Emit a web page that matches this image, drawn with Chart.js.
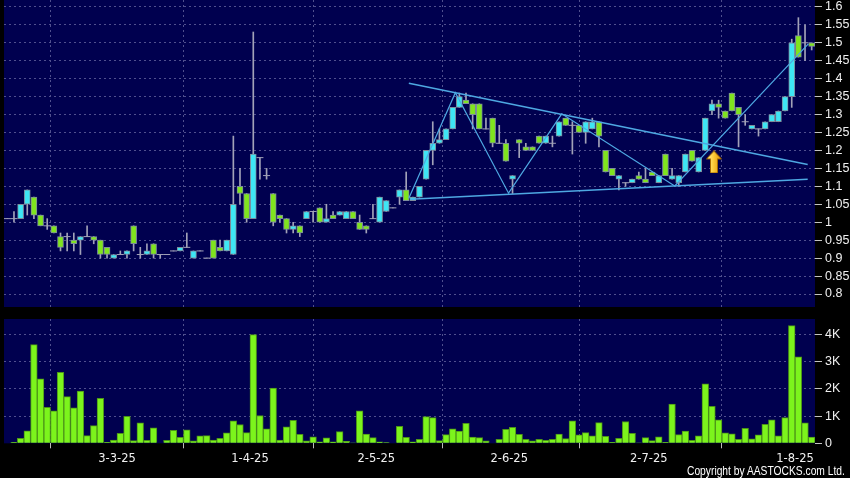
<!DOCTYPE html>
<html lang="en">
<head>
<meta charset="UTF-8">
<title>Daily candles and volume</title>
<script src="https://cdn.jsdelivr.net/npm/chart.js@4"></script>
<style>
  body { margin: 0; background: #000; width: 850px; height: 478px; overflow: hidden; position: relative; }
  #priceChart { position: absolute; left: 0; top: 0; }
  #volChart { position: absolute; left: 0; top: 310px; }
  .copyright {
    position: absolute; right: 5px; top: 463px; color: #fff;
    font: 13px 'Liberation Sans', sans-serif; white-space: nowrap;
    transform: scaleX(0.79); transform-origin: right center;
  }
</style>
</head>
<body>
<canvas id="priceChart" width="850" height="310"></canvas>
<canvas id="volChart" width="850" height="168"></canvas>
<div class="copyright">Copyright by AASTOCKS.com Ltd.</div>

<script>
// ---- data (one entry per trading day) ----
const opens = [
  1.01,1.01,1.01,1.05,1.07,1.02,0.99,0.99,0.96,0.96,
  0.95,0.95,0.96,0.96,0.95,0.93,0.90,0.91,0.91,0.99,
  0.91,0.91,0.94,0.91,0.91,0.92,0.92,0.93,0.90,0.92,
  0.90,0.95,0.93,0.92,0.91,1.10,1.08,1.01,1.18,1.13,
  1.08,1.02,1.01,0.98,0.99,1.01,1.03,1.04,1.00,1.02,
  1.02,1.01,1.03,1.00,0.99,1.01,1.00,1.03,1.04,1.07,
  1.09,1.06,1.07,1.12,1.20,1.22,1.23,1.26,1.32,1.34,
  1.33,1.33,1.26,1.29,1.22,1.22,1.12,1.23,1.21,1.21,
  1.24,1.22,1.22,1.24,1.29,1.27,1.27,1.25,1.26,1.28,
  1.20,1.15,1.12,1.11,1.11,1.13,1.12,1.14,1.11,1.19,
  1.12,1.11,1.14,1.20,1.14,1.20,1.31,1.33,1.31,1.36,
  1.32,1.28,1.26,1.26,1.26,1.28,1.28,1.31,1.35,1.52,
  1.50,1.50
];
const highs = [
  1.01,1.03,1.05,1.09,1.07,1.02,1.01,0.99,0.97,0.97,
  0.97,0.96,0.99,0.96,0.95,0.93,0.91,0.92,0.92,0.99,
  0.93,0.94,0.94,0.91,0.91,0.92,0.93,0.97,0.92,0.92,
  0.90,0.95,0.95,0.95,1.24,1.15,1.08,1.53,1.18,1.15,
  1.08,1.02,1.01,1.00,0.99,1.03,1.03,1.04,1.05,1.03,
  1.03,1.03,1.03,1.02,0.99,1.05,1.07,1.06,1.04,1.09,
  1.14,1.07,1.10,1.20,1.28,1.26,1.26,1.32,1.36,1.36,
  1.33,1.33,1.29,1.29,1.27,1.23,1.13,1.23,1.22,1.21,
  1.24,1.24,1.24,1.28,1.29,1.28,1.27,1.28,1.29,1.28,
  1.20,1.15,1.13,1.11,1.12,1.14,1.15,1.14,1.13,1.19,
  1.15,1.13,1.19,1.20,1.18,1.29,1.34,1.34,1.31,1.36,
  1.32,1.30,1.27,1.26,1.28,1.30,1.31,1.35,1.51,1.57,
  1.55,1.50
];
const lows = [
  1.01,1.00,1.01,1.02,1.01,0.99,0.98,0.97,0.92,0.92,
  0.92,0.91,0.96,0.94,0.90,0.90,0.90,0.91,0.90,0.92,
  0.90,0.91,0.90,0.90,0.91,0.92,0.92,0.93,0.90,0.92,
  0.90,0.90,0.92,0.92,0.91,1.05,1.00,1.01,1.12,1.12,
  0.99,1.00,0.97,0.97,0.96,1.01,1.00,1.00,1.00,1.01,
  1.02,1.01,1.01,0.98,0.97,1.01,1.00,1.03,1.04,1.05,
  1.06,1.06,1.07,1.12,1.16,1.22,1.23,1.26,1.32,1.33,
  1.26,1.26,1.26,1.21,1.22,1.17,1.08,1.18,1.20,1.20,
  1.22,1.22,1.21,1.24,1.27,1.19,1.25,1.22,1.26,1.21,
  1.14,1.13,1.09,1.10,1.11,1.12,1.11,1.13,1.11,1.13,
  1.12,1.10,1.14,1.17,1.14,1.20,1.30,1.29,1.29,1.31,
  1.21,1.27,1.26,1.24,1.26,1.28,1.28,1.31,1.32,1.46,
  1.45,1.48
];
const closes = [
  1.01,1.01,1.05,1.09,1.02,0.99,0.99,0.97,0.93,0.96,
  0.94,0.96,0.96,0.95,0.91,0.91,0.91,0.91,0.92,0.94,
  0.91,0.92,0.91,0.91,0.91,0.92,0.93,0.93,0.92,0.92,
  0.90,0.90,0.92,0.95,1.05,1.08,1.01,1.19,1.18,1.13,
  1.00,1.01,0.98,0.99,0.97,1.03,1.03,1.00,1.01,1.01,
  1.03,1.03,1.01,0.98,0.98,1.01,1.07,1.06,1.04,1.09,
  1.06,1.07,1.10,1.20,1.22,1.23,1.26,1.32,1.35,1.33,
  1.30,1.26,1.26,1.22,1.22,1.17,1.13,1.22,1.20,1.20,
  1.22,1.24,1.22,1.28,1.27,1.27,1.25,1.28,1.28,1.24,
  1.14,1.13,1.13,1.11,1.12,1.12,1.11,1.13,1.13,1.13,
  1.13,1.13,1.19,1.17,1.18,1.29,1.33,1.32,1.29,1.31,
  1.30,1.28,1.27,1.26,1.28,1.30,1.31,1.35,1.50,1.46,
  1.50,1.49
];
// volume in thousands of shares
const volumes = [
  0.00,0.04,0.18,0.46,3.62,2.37,1.32,1.19,2.60,1.71,
  1.30,1.92,0.28,0.65,1.65,0.04,0.12,0.37,0.99,0.10,
  0.75,0.11,0.57,0.00,0.11,0.48,0.22,0.49,0.09,0.27,
  0.28,0.12,0.18,0.38,0.82,0.69,0.39,3.99,1.02,0.53,
  2.03,0.12,0.60,0.84,0.33,0.09,0.24,0.05,0.20,0.05,
  0.43,0.07,0.02,1.19,0.34,0.21,0.05,0.03,0.00,0.62,
  0.22,0.05,0.15,0.98,0.94,0.10,0.32,0.53,0.45,0.73,
  0.23,0.21,0.09,0.00,0.15,0.51,0.59,0.33,0.15,0.09,
  0.15,0.11,0.15,0.34,0.17,0.82,0.31,0.39,0.27,0.76,
  0.26,0.04,0.18,0.80,0.37,0.02,0.21,0.10,0.24,0.04,
  1.44,0.32,0.45,0.11,0.27,2.18,1.36,0.86,0.38,0.35,
  0.15,0.55,0.16,0.31,0.70,0.86,0.27,0.94,4.32,3.17,
  0.75,0.23
];

const dateTicks = ['3-3-25', '1-4-25', '2-5-25', '2-6-25', '2-7-25', '1-8-25'];
const dateTickBars = [17, 37, 56, 76, 97, 119];   // bar that opens each labelled month
const priceTicks = [0.8, 0.85, 0.9, 0.95, 1, 1.05, 1.1, 1.15, 1.2, 1.25, 1.3, 1.35, 1.4, 1.45, 1.5, 1.55, 1.6];
const priceTickLabels = ['0.8','0.85','0.9','0.95','1','1.05','1.1','1.15','1.2','1.25','1.3','1.35','1.4','1.45','1.5','1.55','1.6'];
const volumeTicks = [0, 1, 2, 3, 4];
const volumeTickLabels = ['0', '1K', '2K', '3K', '4K'];

// drawn trend lines (x = bar number, y = price)
const upperTrend = [{ x: 60.4, y: 1.387 }, { x: 120.4, y: 1.161 }];
const lowerTrend = [{ x: 60.6, y: 1.064 }, { x: 120.4, y: 1.120 }];
const zigzag = [
  { x: 60.4, y: 1.067 }, { x: 67.4, y: 1.361 }, { x: 75.4, y: 1.081 },
  { x: 83.4, y: 1.302 }, { x: 100.4, y: 1.101 }, { x: 120.5, y: 1.497 }
];
const arrowMark = [{ x: 106.3, y: 1.168 }];

// ---- styling ----
const barCount = opens.length;
const plotColor = '#00004f';
const gridColor = '#50508e';
const upColor = '#3ee6f4';
const downColor = '#80e41e';
const wickColor = '#a2a2b8';
const trendColor = '#4ea8e2';
const labelFont = { family: "'Liberation Sans', sans-serif", size: 12.5 };
const dateFont = { family: "'DejaVu Sans', sans-serif", size: 11.5 };

const plotBg = {
  id: 'plotBg',
  beforeDraw(chart) {
    const { ctx, chartArea: a } = chart;
    ctx.save();
    ctx.fillStyle = plotColor;
    ctx.fillRect(a.left, a.top, a.right - a.left, a.bottom - a.top);
    ctx.restore();
  }
};

function makeArrow() {
  const c = document.createElement('canvas');
  c.width = 16; c.height = 23;
  const g = c.getContext('2d');
  const grad = g.createLinearGradient(0, 0, 16, 0);
  grad.addColorStop(0, '#fff5a8');
  grad.addColorStop(0.45, '#ffcf3a');
  grad.addColorStop(1, '#d98a00');
  g.beginPath();
  g.moveTo(8, 0.5); g.lineTo(15.5, 8.5); g.lineTo(11.5, 8.5); g.lineTo(11.5, 22.5);
  g.lineTo(4.5, 22.5); g.lineTo(4.5, 8.5); g.lineTo(0.5, 8.5); g.closePath();
  g.fillStyle = grad; g.fill();
  g.strokeStyle = '#a86c00'; g.lineWidth = 1; g.stroke();
  return c;
}

function xAxis(showLabels) {
  return {
    type: 'linear', min: -0.5, max: barCount - 0.5, offset: false,
    afterBuildTicks: ax => { ax.ticks = dateTickBars.map(i => ({ value: i - 0.5 })); },
    afterFit: ax => { ax.height = showLabels ? 34.7 : 3; ax.paddingLeft = 0; ax.paddingRight = 0; },
    grid: { color: gridColor, drawTicks: showLabels, tickLength: 5, tickColor: '#bbbbbb' },
    border: { display: false, dash: [2, 3] },
    ticks: {
      display: showLabels, autoSkip: false, maxRotation: 0, padding: 4,
      color: '#f0f0f0', font: dateFont, callback: (v, i) => dateTicks[i]
    }
  };
}

function yAxis(min, max, ticks, labels) {
  return {
    position: 'right', min: min, max: max,
    afterBuildTicks: ax => { ax.ticks = ticks.map(v => ({ value: v })); },
    afterFit: ax => { ax.width = 35; ax.paddingTop = 0; ax.paddingBottom = 0; },
    grid: {
      color: c => (c.tick && c.tick.value === 0 ? 'rgba(0,0,0,0)' : gridColor),
      tickLength: 7, tickColor: '#c4c4c4'
    },
    border: { display: false, dash: [2, 3] },
    ticks: {
      autoSkip: false, padding: 3, color: '#f0f0f0', font: labelFont,
      callback: (v, i) => labels[i]
    }
  };
}

// ---- candles ----
const wickData = highs.map((h, i) => ({ x: i, y: [lows[i], h] }));
const bodyData = [], bodyColors = [], dojiData = [];
opens.forEach((o, i) => {
  const c = closes[i];
  if (o === c) {
    dojiData.push({ x: i, y: c });
  } else {
    bodyData.push({ x: i, y: [o, c] });
    bodyColors.push(c > o ? upColor : downColor);
  }
});

const lineSet = (data, width) => ({
  type: 'line', data: data, borderColor: trendColor, borderWidth: width,
  pointRadius: 0, tension: 0, fill: false
});

new Chart(document.getElementById('priceChart'), {
  type: 'bar',
  data: {
    datasets: [
      { type: 'line', data: arrowMark, showLine: false, pointStyle: makeArrow(), pointRadius: 10 },
      lineSet(upperTrend, 1.5),
      lineSet(lowerTrend, 1.5),
      lineSet(zigzag, 1.2),
      {
        data: bodyData, grouped: false, barThickness: 6,
        backgroundColor: bodyColors, borderColor: '#7c8c9c', borderWidth: 1, borderSkipped: false
      },
      {
        type: 'line', data: dojiData, showLine: false, pointStyle: 'line',
        pointRadius: 3.5, pointBorderColor: wickColor, pointBorderWidth: 1
      },
      { data: wickData, grouped: false, barThickness: 1, backgroundColor: wickColor }
    ]
  },
  options: {
    responsive: false, animation: false, devicePixelRatio: 1,
    layout: { autoPadding: false, padding: { left: 4, top: 0, right: 0, bottom: 0 } },
    plugins: { legend: { display: false }, tooltip: { enabled: false } },
    scales: {
      x: xAxis(false),
      y: yAxis(0.7638, 1.6192, priceTicks, priceTickLabels)
    }
  },
  plugins: [plotBg]
});

// ---- volume ----
new Chart(document.getElementById('volChart'), {
  type: 'bar',
  data: {
    datasets: [{
      data: volumes.map((v, i) => ({ x: i, y: v })),
      backgroundColor: '#7cf41c', borderColor: '#4c9418', borderWidth: 1, borderSkipped: 'start',
      barPercentage: 1, categoryPercentage: 1
    }]
  },
  options: {
    responsive: false, animation: false, devicePixelRatio: 1,
    layout: { autoPadding: false, padding: { left: 4, top: 9, right: 0, bottom: 0 } },
    plugins: { legend: { display: false }, tooltip: { enabled: false } },
    scales: {
      x: xAxis(true),
      y: yAxis(0, 4.561, volumeTicks, volumeTickLabels)
    }
  },
  plugins: [plotBg]
});
</script>
</body>
</html>
